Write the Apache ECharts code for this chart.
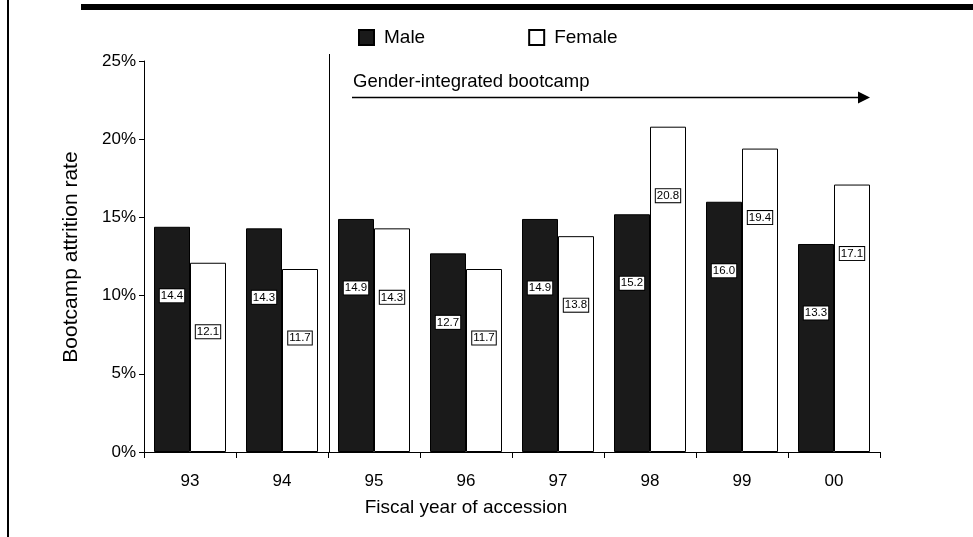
<!DOCTYPE html>
<html>
<head>
<meta charset="utf-8">
<script src="https://cdn.jsdelivr.net/npm/echarts@6/dist/echarts.min.js"></script>
<style>
  html, body { margin: 0; padding: 0; background: #fff; }
  #chart { width: 973px; height: 537px; }
</style>
</head>
<body>
<div id="chart"></div>
<script>
// data
const years = ['93', '94', '95', '96', '97', '98', '99', '00']
const maleRates = [14.4, 14.3, 14.9, 12.7, 14.9, 15.2, 16.0, 13.3]
const femaleRates = [12.1, 11.7, 14.3, 11.7, 13.8, 20.8, 19.4, 17.1]
const yTicks = [0, 5, 10, 15, 20, 25]

const FONT = 'Liberation Sans, Arial, sans-serif'

const chart = echarts.init(document.getElementById('chart'))

// value box sitting a fixed distance below each bar's top
const barLabel = {
  show: true,
  position: ['50%', 69],
  align: 'center',
  verticalAlign: 'middle',
  fontFamily: FONT,
  fontSize: 11.5,
  color: '#000',
  backgroundColor: '#fff',
  borderColor: '#000',
  borderWidth: 1,
  padding: [1, 1, 0, 1],
  formatter: p => p.value.toFixed(1)
}

const option = {
  animation: false,
  backgroundColor: '#fff',
  legend: {
    left: 353,
    top: 23,
    icon: 'rect',
    itemWidth: 15,
    itemHeight: 15,
    itemGap: 103,
    textStyle: {
      fontFamily: FONT,
      fontSize: 19,
      color: '#000',
      padding: [0, 0, 0, 5]
    },
    data: ['Male', 'Female']
  },
  grid: {
    left: 144,
    right: 93,
    top: 61,
    bottom: 85
  },
  xAxis: {
    type: 'category',
    data: years,
    axisLine: { lineStyle: { color: '#000', width: 1 } },
    axisTick: { show: true, length: 6, lineStyle: { color: '#000' } },
    axisLabel: {
      margin: 21,
      fontFamily: FONT,
      fontSize: 17,
      color: '#000'
    }
  },
  yAxis: {
    type: 'value',
    min: yTicks[0],
    max: yTicks[yTicks.length - 1],
    interval: 5,
    axisLine: { show: true, lineStyle: { color: '#000', width: 1 } },
    axisTick: { show: true, length: 5, lineStyle: { color: '#000' } },
    splitLine: { show: false },
    axisLabel: {
      margin: 8,
      fontFamily: FONT,
      fontSize: 17,
      color: '#000',
      formatter: '{value}%'
    }
  },
  series: [
    {
      name: 'Male',
      type: 'bar',
      barWidth: 36,
      barGap: '0%',
      data: maleRates,
      itemStyle: { color: '#1a1a1a', borderColor: '#000', borderWidth: 1 },
      label: barLabel
    },
    {
      name: 'Female',
      type: 'bar',
      barWidth: 36,
      barGap: '0%',
      data: femaleRates,
      itemStyle: { color: '#fff', borderColor: '#000', borderWidth: 1 },
      label: barLabel
    }
  ]
}

chart.setOption(option)

// decorations: page rules, separator at the 94/95 boundary, arrow note, axis titles
const drawDecorations = () => {
  const x94 = chart.convertToPixel({ xAxisIndex: 0 }, '94')
  const x95 = chart.convertToPixel({ xAxisIndex: 0 }, '95')
  const sepX = Math.round((x94 + x95) / 2) + 1.5
  const y0 = chart.convertToPixel({ yAxisIndex: 0 }, 0)

  const arrowY = 97.5
  const arrowStart = 352
  const arrowEnd = 870

  chart.setOption({
    graphic: [
      // thick rule along the top
      { type: 'rect', shape: { x: 81, y: 4, width: 892, height: 6 }, style: { fill: '#000' } },
      // page border on the left
      { type: 'line', shape: { x1: 8, y1: 0, x2: 8, y2: 537 }, style: { stroke: '#000', lineWidth: 2 } },
      // separator before gender-integrated years
      { type: 'line', shape: { x1: sepX, y1: 54, x2: sepX, y2: y0 }, style: { stroke: '#000', lineWidth: 1 } },
      {
        type: 'text',
        x: 353,
        y: 82,
        style: {
          text: 'Gender-integrated bootcamp',
          font: '18.5px ' + FONT,
          fill: '#000',
          verticalAlign: 'middle'
        }
      },
      { type: 'line', shape: { x1: arrowStart, y1: arrowY, x2: arrowEnd - 10, y2: arrowY }, style: { stroke: '#000', lineWidth: 1.5 } },
      {
        type: 'polygon',
        shape: { points: [[arrowEnd - 12, arrowY - 6], [arrowEnd, arrowY], [arrowEnd - 12, arrowY + 6]] },
        style: { fill: '#000' }
      },
      // axis titles
      {
        type: 'text',
        x: 71,
        y: 257,
        rotation: Math.PI / 2,
        style: {
          text: 'Bootcamp attrition rate',
          font: '21px ' + FONT,
          fill: '#000',
          align: 'center',
          verticalAlign: 'middle'
        }
      },
      {
        type: 'text',
        x: 466,
        y: 508,
        style: {
          text: 'Fiscal year of accession',
          font: '19px ' + FONT,
          fill: '#000',
          align: 'center',
          verticalAlign: 'middle'
        }
      }
    ]
  })
}

drawDecorations()
</script>
</body>
</html>
